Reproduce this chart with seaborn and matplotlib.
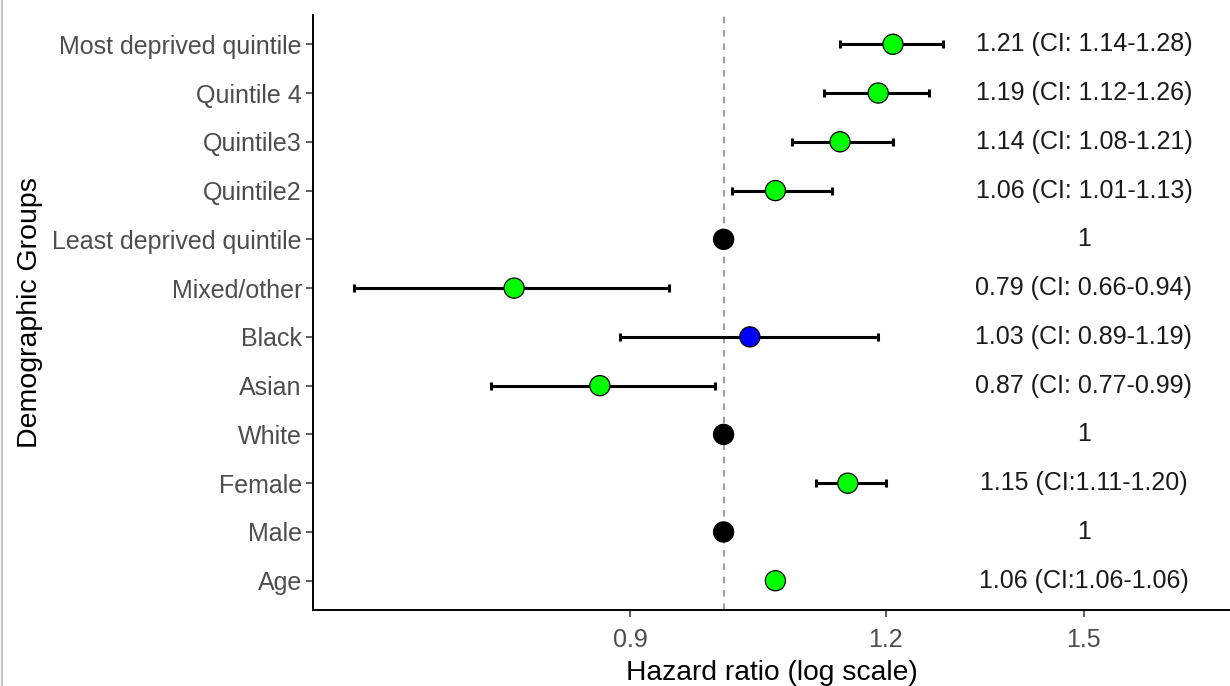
import numpy as np
import pandas as pd
import matplotlib
matplotlib.use("Agg")
import matplotlib.pyplot as plt
from matplotlib.lines import Line2D
import seaborn as sns

# ---- data (bottom to top) ----
groups = ["Age", "Male", "Female", "White", "Asian", "Black", "Mixed/other",
          "Least deprived quintile", "Quintile2", "Quintile3", "Quintile 4",
          "Most deprived quintile"]
hr = [1.06, 1.00, 1.15, 1.00, 0.87, 1.03, 0.79, 1.00, 1.06, 1.14, 1.19, 1.21]
ci_low = [1.06, np.nan, 1.11, np.nan, 0.77, 0.89, 0.66, np.nan, 1.01, 1.08, 1.12, 1.14]
ci_high = [1.06, np.nan, 1.20, np.nan, 0.99, 1.19, 0.94, np.nan, 1.13, 1.21, 1.26, 1.28]
status = ["sig", "ref", "sig", "ref", "sig", "ns", "sig", "ref", "sig", "sig", "sig", "sig"]
labels = ["1.06 (CI:1.06-1.06)", "1", "1.15 (CI:1.11-1.20)", "1",
          "0.87 (CI: 0.77-0.99)", "1.03 (CI: 0.89-1.19)", "0.79 (CI: 0.66-0.94)",
          "1", "1.06 (CI: 1.01-1.13)", "1.14 (CI: 1.08-1.21)",
          "1.19 (CI: 1.12-1.26)", "1.21 (CI: 1.14-1.28)"]
x_ticks = [0.9, 1.2, 1.5]
x_tick_labels = ["0.9", "1.2", "1.5"]
label_x = 1.5

df = pd.DataFrame({"group": groups, "hr": hr, "lo": ci_low, "hi": ci_high,
                   "status": status, "label": labels})
df["pos"] = np.arange(len(df))

sns.set_theme(style="white")
plt.rcParams["font.family"] = ["Liberation Sans", "DejaVu Sans"]

W, H = 1230, 686
fig = plt.figure(figsize=(W / 100, H / 100), dpi=100)
ax = fig.add_axes([313 / W, 1 - 610 / H, 1 - 313 / W, (610 - 15) / H])

# reference line
ax.axvline(1.0, color="#8c8c8c", linestyle=(0, (4, 4)), linewidth=1.2, zorder=1)

# confidence intervals
ci = df.dropna(subset=["lo", "hi"])
ax.errorbar(ci["hr"], ci["pos"],
            xerr=[ci["hr"] - ci["lo"], ci["hi"] - ci["hr"]],
            fmt="none", ecolor="black", elinewidth=2.2, capsize=2.7,
            capthick=2.2, zorder=2)

palette = {"sig": "#00ff00", "ns": "#0000ff", "ref": "#000000"}
sns.scatterplot(data=df, x="hr", y="pos", hue="status", palette=palette,
                s=210, edgecolor="black", linewidth=0.9, legend=False,
                ax=ax, zorder=3)

for _, r in df.iterrows():
    ax.text(label_x, r["pos"], r["label"], ha="center", va="center",
            fontsize=18, color="#1a1a1a")

ax.set_xscale("log")
ax.set_xlim(0.630, 1.768)
ax.set_ylim(-0.6, len(df) - 0.4)
ax.set_xticks(x_ticks)
ax.set_xticklabels(x_tick_labels)
ax.xaxis.set_minor_locator(matplotlib.ticker.NullLocator())
ax.set_yticks(df["pos"])
ax.set_yticklabels(df["group"])

ax.tick_params(axis="both", which="major", labelsize=18, labelcolor="#4d4d4d",
               color="#333333", length=5, width=1.1, left=True, bottom=True)
ax.tick_params(axis="y", pad=3)
ax.tick_params(axis="x", pad=8)

for side in ["top", "right"]:
    ax.spines[side].set_visible(False)
for side in ["left", "bottom"]:
    ax.spines[side].set_color("black")
    ax.spines[side].set_linewidth(1.4)

ax.set_xlabel("Hazard ratio (log scale)", fontsize=20.3, color="black", labelpad=6)
ax.set_ylabel("Demographic Groups", fontsize=20.5, color="black", labelpad=7)
ax.grid(False)

# light grey border at the left edge of the screenshot
fig.add_artist(Line2D([1.5 / W, 1.5 / W], [0, 1], transform=fig.transFigure,
                      color="#c4c4c4", linewidth=1.6))

fig.savefig("out.png", dpi=100, facecolor="white")
